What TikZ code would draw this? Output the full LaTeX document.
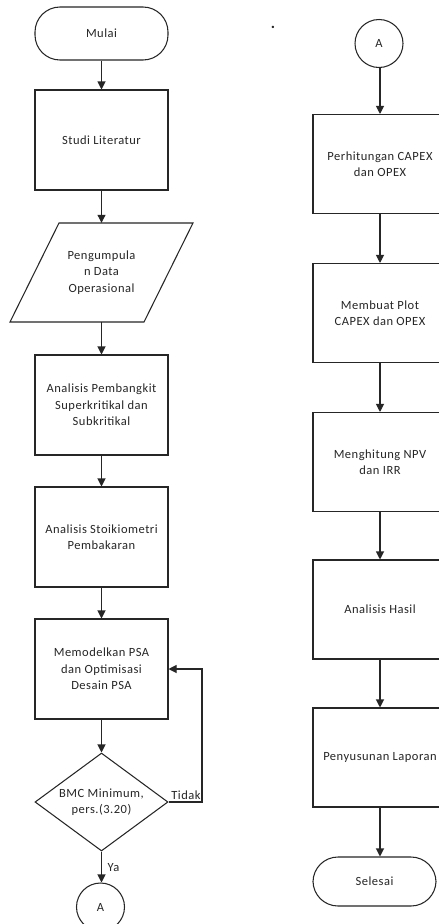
\documentclass[tikz,border=0pt]{standalone}
\usepackage{fontspec}
\setmainfont{Carlito}[LetterSpace=4]
\usetikzlibrary{shapes.geometric,arrows.meta}
\begin{document}
\begin{tikzpicture}[x=1pt,y=-1pt,
  every node/.style={font=\fontsize{12.5}{16.5}\selectfont, text=black!85, align=center},
  ln/.style={draw=black!85, line width=1.05pt},
  arr/.style={ln, -{Triangle[length=8pt,width=8pt]}},
  lbox/.style={ln, rectangle, minimum width=133pt, minimum height=100pt, inner sep=0pt},
  rbox/.style={ln, rectangle, minimum width=134pt, minimum height=99pt, inner sep=0pt},
  term/.style={ln, rectangle, rounded corners=25pt, inner sep=0pt},
  conn/.style={ln, circle, minimum size=48pt, inner sep=0pt},
  ghost/.style={rectangle, minimum width=134pt, minimum height=99pt, inner sep=0pt}
]
\useasboundingbox (0,0) rectangle (439,924);
\clip (0,0) rectangle (439,924);
\fill[white] (0,0) rectangle (439,924);

% Left column
\node[term, minimum width=133pt, minimum height=53pt] (mulai) at (101.5,33.5) {Mulai};
\node[lbox] (studi) at (101.5,140) {Studi Literatur};
\node[ghost] (data) at (101.5,272.5) {Pengumpula\\n Data\\Operasional};
\draw[ln] (59,223) -- (193,223) -- (144,322) -- (10,322) -- cycle;
\node[lbox] (ap) at (101.5,405) {Analisis Pembangkit\\Superkritikal dan\\Subkritikal};
\node[lbox] (as) at (101.5,537) {Analisis Stoikiometri\\Pembakaran};
\node[lbox] (mp) at (101.5,669) {Memodelkan PSA\\dan Optimisasi\\Desain PSA};
\node[ln, diamond, minimum width=133pt, minimum height=98pt, inner sep=0pt, aspect=1.357] (bmc) at (101.5,802) {};
\node (bmctext) at (101.5,802) {BMC Minimum,\\pers.(3.20)};
\node[conn] (a1) at (100.5,907) {A};
\coordinate (loopb) at (202,802);
\coordinate (loopt) at (202,669);

\draw[arr] (mulai) -- (studi);
\draw[arr] (studi) -- (data);
\draw[arr] (data) -- (ap);
\draw[arr] (ap) -- (as);
\draw[arr] (as) -- (mp);
\draw[arr] (mp) -- (bmc);
\draw[arr] (bmc.south) -- (bmc.south |- a1.north);
\node[anchor=west] (ya) at (104,868) {Ya};
\draw[arr] (bmc.east) -- (loopb) -- (loopt) -- (mp.east);
\node[anchor=south] (tidak) at (186,803) {Tidak};

% Right column
\node[font=\fontsize{16}{16}\selectfont\bfseries] (dot) at (273,27) {.};
\node[conn] (a2) at (379,43.5) {A};
\node[rbox] (r1) at (380,164) {Perhitungan CAPEX\\dan OPEX};
\node[rbox] (r2) at (380,313) {Membuat Plot\\CAPEX dan OPEX};
\node[rbox] (r3) at (380,462) {Menghitung NPV\\dan IRR};
\node[rbox] (r4) at (380,609.5) {Analisis Hasil};
\node[rbox] (r5) at (380,757.5) {Penyusunan Laporan};
\node[term, minimum width=123pt, minimum height=49pt] (selesai) at (374.5,881.5) {Selesai};

\draw[arr] (a2.south -| r1.north) -- (r1.north);
\draw[arr] (r1) -- (r2);
\draw[arr] (r2) -- (r3);
\draw[arr] (r3) -- (r4);
\draw[arr] (r4) -- (r5);
\draw[arr] (r5.south) -- (r5.south |- selesai.north);
\end{tikzpicture}
\end{document}
